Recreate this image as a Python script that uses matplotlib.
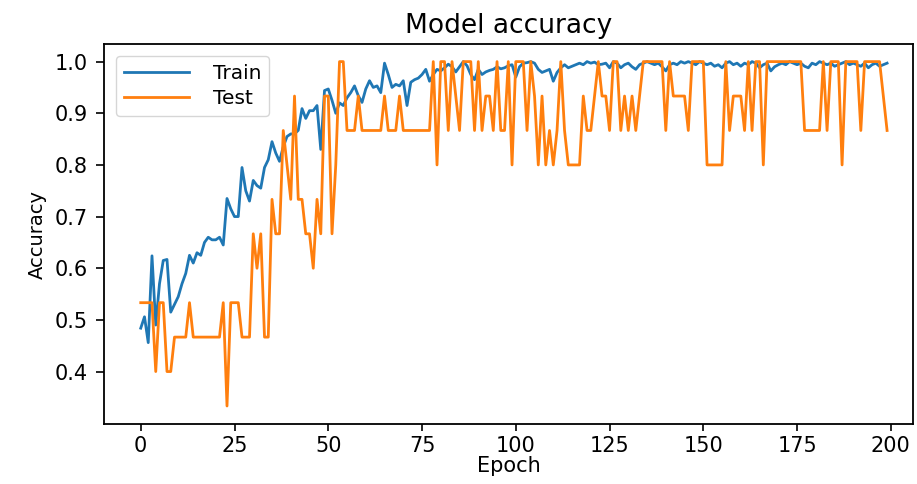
import numpy as np
import matplotlib
matplotlib.use("Agg")
import matplotlib.pyplot as plt

#%% training history (200 epochs)
train_acc = [
    0.484, 0.506, 0.456, 0.624, 0.49, 0.57, 0.615, 0.617, 0.515, 0.53,
    0.545, 0.57, 0.59, 0.625, 0.61, 0.63, 0.625, 0.65, 0.66, 0.655,
    0.655, 0.66, 0.645, 0.735, 0.715, 0.70, 0.70, 0.795, 0.75, 0.73,
    0.77, 0.76, 0.755, 0.795, 0.81, 0.845, 0.823, 0.807, 0.835, 0.855,
    0.86, 0.86, 0.867, 0.909, 0.89, 0.905, 0.905, 0.915, 0.83, 0.944,
    0.947, 0.925, 0.90, 0.92, 0.915, 0.93, 0.94, 0.953, 0.934, 0.921,
    0.947, 0.963, 0.95, 0.953, 0.94, 0.997, 0.975, 0.95, 0.956, 0.953,
    0.963, 0.915, 0.96, 0.965, 0.968, 0.975, 0.985, 0.962, 0.975, 0.985,
    0.982, 0.988, 0.995, 0.99, 0.98, 0.99, 1.0, 0.992, 0.975, 0.965,
    0.985, 0.975, 0.98, 0.983, 0.985, 0.99, 0.986, 0.988, 0.992, 0.994,
    0.97, 0.99, 0.997, 0.998, 1.0, 0.997, 0.985, 0.979, 0.982, 0.985,
    0.962, 0.979, 0.988, 0.994, 0.988, 0.991, 0.994, 0.997, 0.994, 1.0,
    0.997, 0.999, 0.994, 0.995, 0.997, 0.988, 1.0, 0.997, 0.988, 0.994,
    0.997, 0.99, 0.985, 0.994, 0.997, 1.0, 0.997, 0.994, 0.997, 0.99,
    0.982, 0.994, 0.997, 0.994, 1.0, 0.997, 1.0, 0.997, 0.994, 1.0,
    0.997, 0.994, 0.997, 0.991, 0.994, 0.988, 0.997, 1.0, 0.994, 0.997,
    0.991, 0.997, 0.994, 1.0, 0.997, 0.988, 0.994, 0.997, 0.982, 0.99,
    0.994, 0.997, 0.994, 1.0, 0.997, 0.994, 0.997, 0.991, 0.988, 0.997,
    0.994, 1.0, 0.997, 0.994, 0.997, 0.991, 0.994, 0.997, 1.0, 0.994,
    0.997, 0.994, 0.991, 0.997, 0.988, 0.994, 0.997, 0.991, 0.994, 0.997,
]

# test set has 15 samples -> correct counts per epoch
test_correct = [
    8, 8, 8, 8, 6, 8, 8, 6, 6, 7,
    7, 7, 7, 8, 7, 7, 7, 7, 7, 7,
    7, 7, 8, 5, 8, 8, 8, 7, 7, 7,
    10, 9, 10, 7, 7, 11, 10, 10, 13, 12,
    11, 14, 11, 11, 10, 10, 9, 11, 10, 14,
    14, 10, 12, 15, 15, 13, 13, 13, 14, 13,
    13, 13, 13, 13, 13, 14, 13, 13, 13, 14,
    13, 13, 13, 13, 13, 13, 13, 13, 15, 12,
    15, 15, 13, 15, 14, 13, 15, 15, 15, 13,
    15, 13, 14, 14, 13, 15, 13, 13, 15, 12,
    15, 15, 15, 13, 15, 14, 12, 14, 12, 13,
    12, 13, 15, 13, 12, 12, 12, 12, 14, 13,
    13, 14, 15, 14, 14, 13, 15, 15, 13, 14,
    13, 14, 13, 14, 15, 15, 15, 15, 15, 15,
    13, 15, 14, 14, 14, 14, 13, 15, 15, 15,
    15, 12, 12, 12, 12, 12, 15, 13, 14, 14,
    14, 13, 15, 13, 15, 15, 12, 15, 15, 15,
    15, 15, 15, 15, 15, 15, 15, 13, 13, 13,
    13, 13, 15, 13, 15, 15, 15, 12, 15, 15,
    15, 15, 13, 15, 15, 15, 15, 15, 14, 13,
]
n_test = 15
test_acc = np.array(test_correct) / n_test
epochs = np.arange(len(train_acc))

fig = plt.figure(figsize=(9.17, 4.84), dpi=100)
ax = fig.add_axes([0.1134, 0.124, 0.8826, 0.785])

ax.plot(epochs, train_acc, color="#1f77b4", lw=2)
ax.plot(epochs, test_acc, color="#ff7f0e", lw=2)

ax.set_xlim(-9.8, 206)
ax.set_ylim(0.2985, 1.034)
ax.set_xticks(np.arange(0, 201, 25))
ax.set_yticks([0.4, 0.5, 0.6, 0.7, 0.8, 0.9, 1.0])
ax.tick_params(labelsize=15, length=5.5, width=1.2, pad=6)
ax.tick_params(axis="x", length=5, pad=3.5)
for s in ax.spines.values():
    s.set_linewidth(1.3)

ax.set_title("Model accuracy", fontsize=19, pad=8)
ax.set_xlabel("Epoch", fontsize=15, labelpad=0)
ax.set_ylabel("Accuracy", fontsize=14, labelpad=6)
ax.legend(["Train", "Test"], loc="upper left", fontsize=14.5,
          handlelength=3.2, handletextpad=1.2, labelspacing=0.3,
          borderaxespad=0.6)

fig.savefig("out.png", dpi=100)
